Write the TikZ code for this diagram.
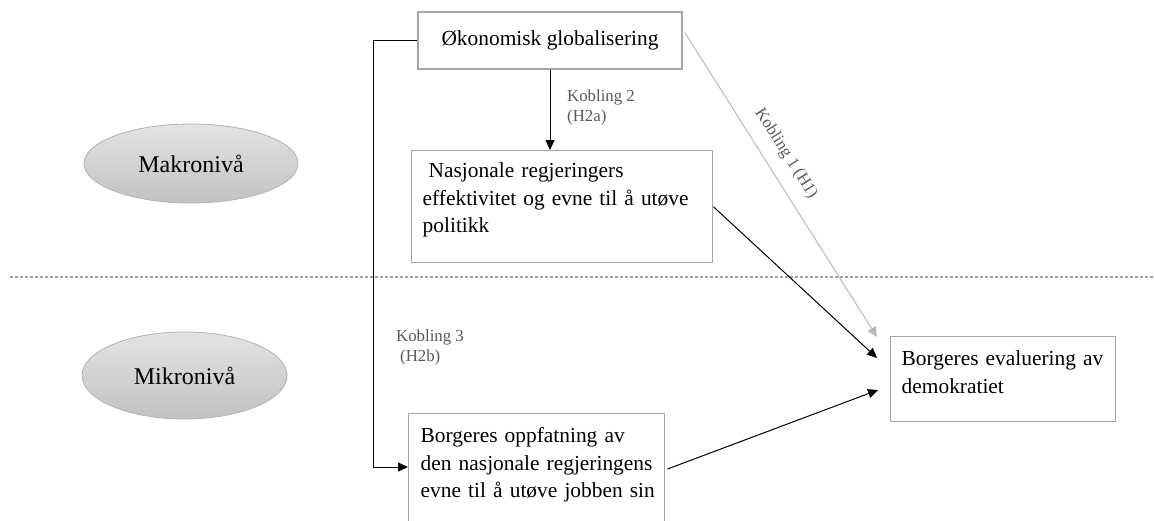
\documentclass[tikz,border=0pt]{standalone}
\usepackage{fontspec}
\setmainfont{Liberation Serif}
\usetikzlibrary{arrows.meta, shapes.geometric, calc}

\begin{document}
\begin{tikzpicture}[x=0.5pt, y=-0.5pt,
        box/.style={draw=gray!70, line width=0.7pt, align=left, inner xsep=5.5pt, inner ysep=0pt, anchor=north west, font=\fontsize{10.7}{13.8}\selectfont},
        level/.style={ellipse, draw=gray!60, line width=0.4pt, top color=gray!22, bottom color=gray!48, font=\fontsize{12}{14}\selectfont},
        link/.style={line width=0.5pt, -{Triangle[length=5pt,width=4.5pt]}},
        tag/.style={text=black!65, align=left, font=\fontsize{8.4}{10}\selectfont}]
            \useasboundingbox (0,0) rectangle (1154,520);
            \clip (0,0) rectangle (1154,520);
            \draw [gray!75, line width=0.6pt, dash pattern=on 1.5pt off 1pt] (10,277) -- (1154,277);
            \node [level, minimum width=107pt, minimum height=39.5pt] (makro) at (191,163.5) {Makronivå};
            \node [level, minimum width=102.5pt, minimum height=43.5pt] (mikro) at (184.5,375.5) {Mikronivå};
            \node [box, align=center, anchor=center, minimum width=132pt, minimum height=28.5pt] (glob) at (550,40.5) {Økonomisk globalisering};
            \node [box, text width=139.5pt, text height=13.5pt, text depth=42.5pt] (eff) at (411,150) {\hspace*{3pt}Nasjonale regjeringers\\effektivitet og evne til å utøve\\politikk};
            \node [box, inner xsep=3pt, text width=122pt, text height=14.5pt, text depth=49pt] (opp) at (408,413) {\hspace*{3pt}Borgeres oppfatning av\\\hspace*{3pt}den nasjonale regjeringens\\\hspace*{3pt}evne til å utøve jobben sin};
            \node [box, text width=101.5pt, text height=14.5pt, text depth=28pt] (eval) at (890,336) {Borgeres evaluering av\\demokratiet};
            \coordinate (bend) at (373,467);
            \draw [link] (glob.south) -- node [tag, pos=0.475, right=5pt] {Kobling 2\\(H2a)} (glob.south |- eff.north);
            \draw [link] (glob.west) -- (glob.west -| bend) -- node [tag, pos=0.72, right=8pt] {Kobling 3\\\hspace*{2pt}(H2b)} (bend) -- (bend -| opp.west);
            \draw [link, gray!55] ($(glob.north east)+(2,21)$) -- node [tag, pos=0.435, sloped, above=3pt] {Kobling 1 (H1)} ($(eval.north west)+(-13,1)$);
            \draw [link] (eff.east) -- ($(eval.north west)+(-13,22)$);
            \draw [link] ($(opp.north east)+(2,56)$) -- ($(eval.north west)+(-12,54)$);
        \end{tikzpicture}
\end{document}
